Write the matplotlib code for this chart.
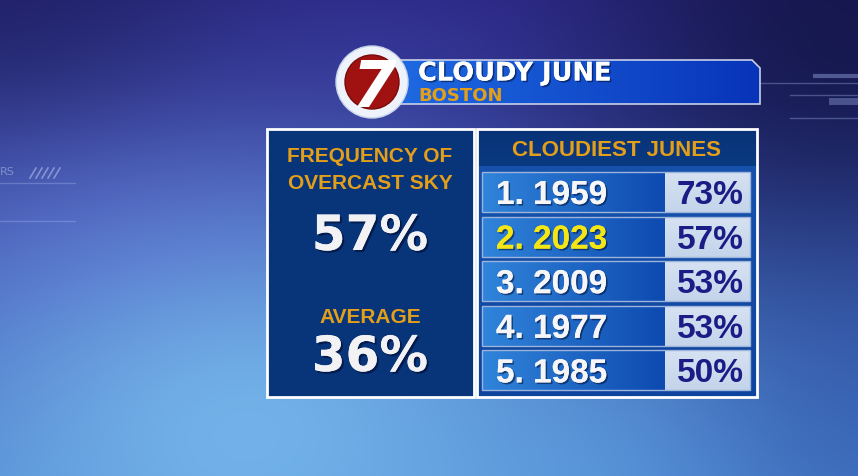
import numpy as np
import matplotlib
matplotlib.use('Agg')
from matplotlib import pyplot as plt
from matplotlib import patches
from matplotlib import patheffects as pe

# chart data
title = 'CLOUDY JUNE'
subtitle = 'BOSTON'
left_heading = ['FREQUENCY OF', 'OVERCAST SKY']
freq_2023 = 57
avg_label = 'AVERAGE'
freq_avg = 36
right_heading = 'CLOUDIEST JUNES'
ranks = [1, 2, 3, 4, 5]
years = [1959, 2023, 2009, 1977, 1985]
overcast_pct = [73, 57, 53, 53, 50]
highlight_year = 2023

W, H = 858, 476
ORANGE = '#e39f1a'
NAVY_TXT = '#1c1c86'


def rgb(c):
    return np.array(c, dtype=float) / 255.


def grad(ax, x0, y0, x1, y1, c0, c1, vertical=False, z=2, clip=None):
    t = np.linspace(0, 1, 64)[:, None]
    arr = (1 - t) * rgb(c0) + t * rgb(c1)
    img = arr[:, None, :] if vertical else arr[None, :, :]
    im = ax.imshow(img, extent=(x0, x1, y1, y0), aspect='auto',
                   interpolation='bilinear', zorder=z)
    if clip is not None:
        im.set_clip_path(clip)
    return im


def background():
    yy, xx = np.mgrid[0:H, 0:W].astype(float)
    t = (yy / H)[..., None]
    img = (1 - t) * rgb((40, 38, 125)) + t * rgb((72, 128, 205))

    def blob(cx, cy, sx, sy, col, w):
        k = w * np.exp(-((xx - cx) ** 2 / (2 * sx ** 2) + (yy - cy) ** 2 / (2 * sy ** 2)))
        return k[..., None], rgb(col)

    for cx, cy, sx, sy, col, w in [
        (120, 220, 190, 120, (88, 98, 208), 0.7),
        (450, 40, 220, 80, (58, 52, 165), 0.5),
        (260, 430, 230, 150, (118, 182, 235), 0.95),
        (620, 440, 200, 90, (95, 160, 225), 0.5),
        (858, 40, 190, 160, (18, 20, 68), 0.85),
        (0, 0, 170, 110, (26, 28, 88), 0.6),
        (858, 420, 120, 140, (45, 82, 168), 0.5),
    ]:
        k, c = blob(cx, cy, sx, sy, col, w)
        img = img * (1 - k) + c * k
    return np.clip(img, 0, 1)


fig = plt.figure(figsize=(W / 100, H / 100), dpi=100)
ax = fig.add_axes([0, 0, 1, 1])
ax.imshow(background(), extent=(0, W, H, 0), aspect='auto', zorder=0)

# faint HUD decorations
hud = dict(color='#a8b8f0', alpha=0.35, lw=1, zorder=1)
ax.plot([0, 75], [183, 183], **hud)
ax.plot([0, 75], [221, 221], **hud)
ax.plot([760, 858], [83, 83], **hud)
ax.plot([790, 858], [95, 95], **hud)
ax.plot([790, 858], [118, 118], **hud)
ax.plot([815, 858], [76, 76], color='#a8b8f0', alpha=0.4, lw=3, zorder=1)
ax.plot([832, 858], [101, 101], color='#a8b8f0', alpha=0.35, lw=5, zorder=1)
ax.text(0, 172, 'RS', color='#c0c8f0', alpha=0.5, fontsize=8, va='center', zorder=1)
for i in range(5):
    ax.plot([30 + i * 6, 36 + i * 6], [178, 168], color='#c8d0f8', alpha=0.5, lw=1.2, zorder=1)

# header bar with chamfered corner
bar_pts = [(395, 60), (752, 60), (760, 68), (760, 104), (395, 104)]
bar = patches.Polygon(bar_pts, closed=True, facecolor='none', edgecolor='#c8d0e8', lw=1.2, zorder=4)
ax.add_patch(bar)
grad(ax, 395, 60, 760, 104, (30, 105, 225), (8, 52, 185), z=3, clip=bar)

# logo
ax.add_patch(patches.Circle((372, 82), 36, facecolor='#eef2fa', edgecolor='#c8d4ea', lw=1, zorder=5))
red = patches.Circle((372, 82), 27, facecolor='#a01212', edgecolor='#7a0a0a', lw=1, zorder=6)
ax.add_patch(red)
seven = ax.text(373, 107, '7', color='white', fontsize=46, fontweight='bold', style='italic',
                family='DejaVu Sans', ha='center', va='baseline', zorder=7)
seven.set_clip_path(patches.Circle((372, 82), 31, transform=ax.transData))

shadow = [pe.withSimplePatchShadow(offset=(1.2, -1.2), shadow_rgbFace='#000010', alpha=0.45), pe.Normal()]
ax.text(418, 80.5, title, color='white', fontsize=18.5, fontweight='bold', family='DejaVu Sans',
        va='baseline', zorder=8, path_effects=shadow)
ax.text(418, 101, subtitle, color=ORANGE, fontsize=13, fontweight='bold', family='DejaVu Sans',
        va='baseline', zorder=8)

# left panel
ax.add_patch(patches.Rectangle((267, 129), 207, 268, facecolor='#08357a', edgecolor='white', lw=2, zorder=3))
ax.text(370, 161.5, left_heading[0], color=ORANGE, fontsize=15, fontweight='bold',
        family='Liberation Sans', ha='center', va='baseline', zorder=5)
ax.text(370, 189, left_heading[1], color=ORANGE, fontsize=15, fontweight='bold',
        family='Liberation Sans', ha='center', va='baseline', zorder=5)
big_fx = [pe.withSimplePatchShadow(offset=(1.5, -1.5), shadow_rgbFace='#000020', alpha=0.5), pe.Normal()]
ax.text(370, 250, f'{freq_2023}%', color='#f2f2f4', fontsize=35, fontweight='bold',
        family='DejaVu Sans', ha='center', va='baseline', zorder=5, path_effects=big_fx)
ax.text(370, 323, avg_label, color=ORANGE, fontsize=15, fontweight='bold',
        family='Liberation Sans', ha='center', va='baseline', zorder=5)
ax.text(370, 371, f'{freq_avg}%', color='#f2f2f4', fontsize=35, fontweight='bold',
        family='DejaVu Sans', ha='center', va='baseline', zorder=5, path_effects=big_fx)

# right panel
ax.add_patch(patches.Rectangle((477, 129), 280, 268, facecolor='none', edgecolor='white', lw=2, zorder=5))
grad(ax, 477, 129, 757, 166, (8, 50, 118), (10, 58, 130), vertical=True, z=3)
grad(ax, 477, 166, 757, 397, (22, 82, 172), (14, 68, 158), vertical=True, z=3)
ax.text(617, 156, right_heading, color=ORANGE, fontsize=16, fontweight='bold',
        family='Liberation Sans', ha='center', va='baseline', zorder=5)

row_top, row_pitch, row_h = 172, 44.6, 40
row_x0, row_split, row_x1 = 482, 665, 750
row_fx = [pe.withSimplePatchShadow(offset=(1.2, -1.2), shadow_rgbFace='#001030', alpha=0.55), pe.Normal()]
for i, (rk, yr, pc) in enumerate(zip(ranks, years, overcast_pct)):
    y0 = row_top + i * row_pitch
    y1 = y0 + row_h
    grad(ax, row_x0, y0, row_split, y1, (48, 132, 218), (14, 74, 176), z=4)
    grad(ax, row_split, y0, row_x1, y1, (214, 226, 242), (196, 212, 234), vertical=True, z=4)
    ax.add_patch(patches.Rectangle((row_x0, y0), row_x1 - row_x0, row_h, facecolor='none',
                                   edgecolor='#9cb4dc', lw=1, zorder=5))
    col = '#f4e614' if yr == highlight_year else '#f6f6f8'
    yc = (y0 + y1) / 2
    ax.text(496, yc + 12, f'{rk}. {yr}', color=col, fontsize=24, fontweight='bold',
            family='Liberation Sans', va='baseline', zorder=6, path_effects=row_fx)
    ax.text(744, yc + 12, f'{pc}%', color=NAVY_TXT, fontsize=24, fontweight='bold',
            family='Liberation Sans', ha='right', va='baseline', zorder=6)

ax.set_xlim(0, W)
ax.set_ylim(H, 0)
ax.axis('off')
fig.savefig('out.png', dpi=100)
